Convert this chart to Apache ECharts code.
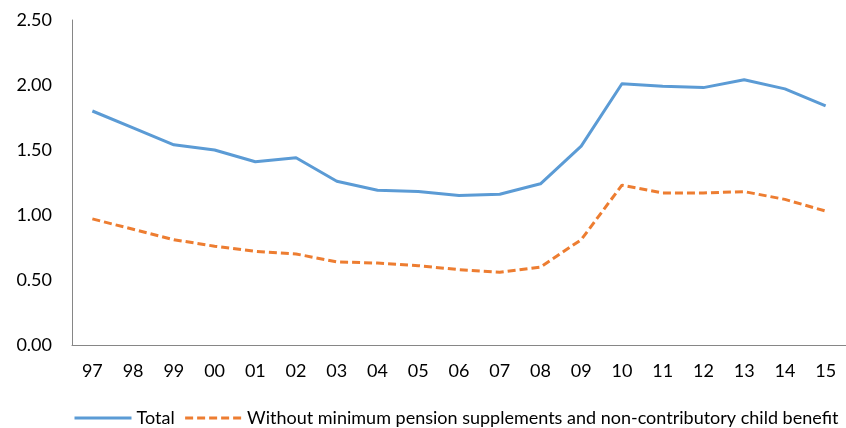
<!DOCTYPE html>
<html><head><meta charset="utf-8">
<script src="https://cdn.jsdelivr.net/npm/echarts@6/dist/echarts.min.js"></script>
<style>html,body{margin:0;padding:0;background:#fff}#c{width:846px;height:428px}</style>
</head><body><div id="c"></div>
<script>
const categories = ['97','98','99','00','01','02','03','04','05','06','07','08','09','10','11','12','13','14','15'];
const total = [1.80,1.67,1.54,1.50,1.41,1.44,1.26,1.19,1.18,1.15,1.16,1.24,1.53,2.01,1.99,1.98,2.04,1.97,1.84];
const without = [0.97,0.89,0.81,0.76,0.72,0.70,0.64,0.63,0.61,0.58,0.56,0.60,0.81,1.23,1.17,1.17,1.18,1.12,1.03];
const yTicks = [0,0.5,1,1.5,2,2.5];
const seriesNames = ['Total','Without minimum pension supplements and non-contributory child benefit'];

const font = 'Lato, "Open Sans", sans-serif';
const chart = echarts.init(document.getElementById('c'));
chart.setOption({
  animation:false,
  backgroundColor:'#fff',
  grid:{left:72,right:0,top:20,bottom:83,containLabel:false},
  legend:{
    left:73, top:409, right:0, padding:0, itemWidth:57, itemHeight:12, itemGap:9,
    itemStyle:{opacity:0},
    lineStyle:{width:3},
    textStyle:{fontFamily:font,fontSize:18,color:'#000'},
    data:seriesNames
  },
  xAxis:{
    type:'category', data:categories, boundaryGap:true,
    axisLine:{lineStyle:{color:'#868686',width:1}},
    axisTick:{show:false},
    axisLabel:{fontFamily:font,fontSize:18,color:'#000',margin:17}
  },
  yAxis:{
    type:'value', min:yTicks[0], max:yTicks[yTicks.length-1], interval:0.5,
    axisLine:{show:true,lineStyle:{color:'#868686',width:1}},
    axisTick:{show:false},
    splitLine:{show:false},
    axisLabel:{fontFamily:font,fontSize:18,color:'#000',margin:20,formatter:v=>v.toFixed(2)}
  },
  series:[
    {name:seriesNames[0],type:'line',data:total,symbol:'none',
     lineStyle:{color:'#5B9BD5',width:3,join:'round'},itemStyle:{color:'#5B9BD5'}},
    {name:seriesNames[1],type:'line',data:without,symbol:'none',
     lineStyle:{color:'#ED7D31',width:3,type:[8,4]},itemStyle:{color:'#ED7D31'}}
  ]
});
</script></body></html>
